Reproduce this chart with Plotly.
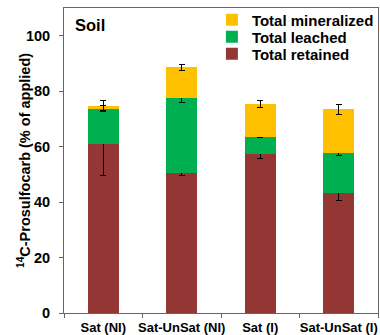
import plotly.graph_objects as go

categories = ["Sat (NI)", "Sat-UnSat (NI)", "Sat (I)", "Sat-UnSat (I)"]
retained = [61.0, 50.6, 57.2, 43.4]
retained_err = [11.4, 1.0, 1.6, 2.8]
leached = [12.9, 26.8, 6.3, 14.2]
leached_err = [1.0, 1.6, 0.3, 0.9]
mineralized = [0.7, 11.2, 11.9, 15.8]
mineralized_err = [2.0, 1.2, 1.2, 1.9]

FONT = "Arial, Liberation Sans, sans-serif"
AX = "#666666"

def err(vals):
    return dict(type="data", array=vals, visible=True, color="black", thickness=1, width=3)

fig = go.Figure()
fig.add_trace(go.Bar(x=categories, y=retained, name="Total retained", legend="legend3",
                     marker=dict(color="#943634", line=dict(width=0)), error_y=err(retained_err)))
fig.add_trace(go.Bar(x=categories, y=leached, name="Total leached", legend="legend2",
                     marker=dict(color="#00B050", line=dict(width=0)), error_y=err(leached_err)))
fig.add_trace(go.Bar(x=categories, y=mineralized, name="Total mineralized", legend="legend",
                     marker=dict(color="#FFC000", line=dict(width=0)), error_y=err(mineralized_err)))

def leg(y):
    return dict(x=0.471, y=y, xanchor="left", yanchor="middle",
                bgcolor="rgba(0,0,0,0)", borderwidth=0,
                font=dict(size=15, family=FONT, color="black", weight="bold"),
                itemwidth=30)

fig.update_layout(
    barmode="stack",
    bargap=0.6,
    width=380, height=335,
    margin=dict(l=64, r=2, t=8, b=22, autoexpand=False),
    paper_bgcolor="white", plot_bgcolor="white",
    font=dict(family=FONT, color="black", size=14),
    showlegend=True,
    legend=leg(0.961),
    legend2=leg(0.905),
    legend3=leg(0.849),
    annotations=[
        dict(text="<b>Soil</b>", xref="paper", yref="paper", x=0.030, y=0.945,
             xanchor="left", yanchor="middle", showarrow=False,
             font=dict(size=16.5, family=FONT, color="black")),
        dict(text="<b><sup>14</sup>C-Prosulfocarb (% of applied)</b>", xref="paper", yref="paper",
             x=-0.129, y=0.5, xanchor="center", yanchor="middle", textangle=-90,
             showarrow=False, font=dict(size=14.5, family=FONT, color="black")),
    ],
)
fig.update_xaxes(
    showline=True, linecolor=AX, linewidth=1, mirror=True,
    ticks="outside", ticklen=4, tickcolor=AX, tickson="boundaries",
    tickangle=0, automargin=False, ticklabelstandoff=2,
    tickfont=dict(size=13, family=FONT, color="black", weight="bold"),
    showgrid=False,
)
fig.update_yaxes(
    range=[0, 110], dtick=20, tick0=0,
    showline=True, linecolor=AX, linewidth=1, mirror=True,
    ticks="outside", ticklen=4, tickcolor=AX, automargin=False,
    ticklabelstandoff=6,
    tickfont=dict(size=14.5, family=FONT, color="black", weight="bold"),
    showgrid=False, zeroline=False,
)

fig.write_html("out.html",
               config={"displayModeBar": False},
               post_script="document.body.style.margin='0';document.body.style.overflow='hidden';")
